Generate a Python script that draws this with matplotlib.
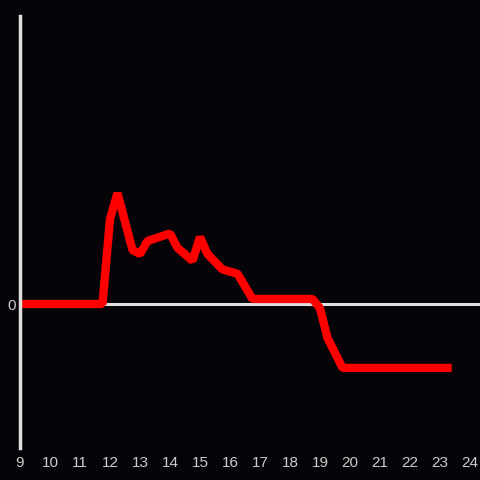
import matplotlib
matplotlib.use("Agg")
import matplotlib.pyplot as plt

hours = [9, 11.75, 12.0, 12.25, 12.75, 13.0, 13.25, 14.0, 14.25, 14.75, 15.0, 15.25,
         15.75, 16.25, 16.75, 18.75, 19.0, 19.25, 19.75, 23.25]
values = [0, 0, 0.59, 0.77, 0.375, 0.347, 0.4375, 0.49, 0.39, 0.30, 0.465, 0.347,
          0.24, 0.21, 0.035, 0.035, -0.03, -0.236, -0.444, -0.444]
xticks = list(range(9, 25))

bg = "#060408"
fg = "#dddddd"

fig = plt.figure(figsize=(4.8, 4.8), dpi=100, facecolor=bg)
ax = fig.add_axes([20/480, 32/480, 460/480, 432/480], facecolor=bg)

ax.axhline(0, color="#e0e0e0", lw=2.2, zorder=1)
ax.plot(hours, values, color="#ff0000", lw=6, solid_capstyle="projecting",
        solid_joinstyle="bevel", zorder=2)

ax.set_xlim(9, 24.333)
ax.set_ylim(-1, 2)
ax.set_xticks(xticks)
ax.set_xticklabels([str(t) for t in xticks])
ax.set_yticks([0])
ax.set_yticklabels(["0"])
ax.tick_params(length=0, colors="#cccccc", labelsize=11, pad=6)
ax.tick_params(axis="y", pad=3)
for lab in ax.get_xticklabels() + ax.get_yticklabels():
    lab.set_fontfamily(["Liberation Sans", "DejaVu Sans"])

for s in ["top", "right", "bottom"]:
    ax.spines[s].set_visible(False)
ax.spines["left"].set_color("#e0e0e0")
ax.spines["left"].set_linewidth(2.5)

fig.savefig("out.png", dpi=100, facecolor=bg)
